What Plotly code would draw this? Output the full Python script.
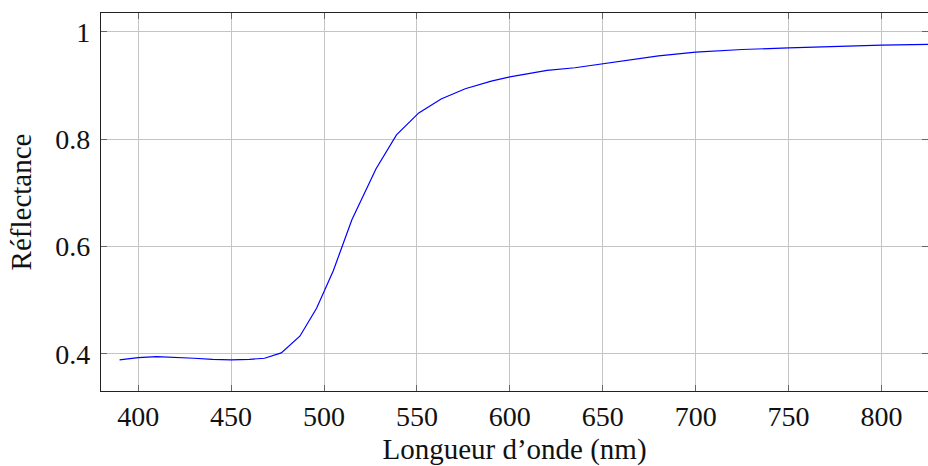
import plotly.graph_objects as go

# ── Data ──────────────────────────────────────────────────────────────────────

wavelength_nm = [390, 400, 410, 420, 430, 440, 450, 460, 468, 477, 487, 496,
                 505, 515, 528, 539, 551, 563, 576, 590, 600, 610, 620, 635,
                 650, 665, 680, 700, 725, 750, 775, 800, 830]
reflectance = [0.389, 0.393, 0.395, 0.394, 0.392, 0.390, 0.389, 0.390, 0.392,
               0.402, 0.433, 0.485, 0.555, 0.650, 0.745, 0.808, 0.849, 0.875,
               0.894, 0.908, 0.916, 0.922, 0.928, 0.933, 0.940, 0.948, 0.955,
               0.962, 0.967, 0.970, 0.973, 0.975, 0.977]

x_ticks = [400, 450, 500, 550, 600, 650, 700, 750, 800]
y_ticks = [0.4, 0.6, 0.8, 1.0]
y_tick_labels = ["0.4", "0.6", "0.8", "1"]

# ── Figure ────────────────────────────────────────────────────────────────────

FONT = "Liberation Serif"

fig = go.Figure()
fig.add_trace(go.Scatter(
    x=wavelength_nm, y=reflectance,
    mode="lines",
    line=dict(color="#0000ff", width=1.2),
    showlegend=False,
))

axis_common = dict(
    showline=True, linecolor="#222", linewidth=1.2, mirror="allticks",
    ticks="inside", ticklen=6, tickcolor="#666", tickwidth=1,
    showgrid=True, gridcolor="#c4c4c4", gridwidth=1,
    zeroline=False,
    tickfont=dict(family=FONT, size=28, color="#111"),
)

fig.update_layout(
    width=928, height=466,
    paper_bgcolor="white", plot_bgcolor="white",
    margin=dict(l=101, r=0, t=13, b=75, autoexpand=False),
    font=dict(family=FONT, color="#111"),
    xaxis=dict(
        **axis_common,
        range=[380, 825],
        tickvals=x_ticks,
        ticklabelstandoff=0,
        title=dict(text="Longueur d’onde (nm)", font=dict(family=FONT, size=29),
                   standoff=17),
    ),
    yaxis=dict(
        **axis_common,
        range=[0.331, 1.035],
        tickvals=y_ticks,
        ticktext=y_tick_labels,
        ticklabelstandoff=4,
        title=dict(text="Réflectance", font=dict(family=FONT, size=29),
                   standoff=15),
    ),
)

# drop the default 8px page margin so the figure sits flush in the window
fig.write_html("out.html", config={"displayModeBar": False},
               post_script="document.body.style.margin='0';")
